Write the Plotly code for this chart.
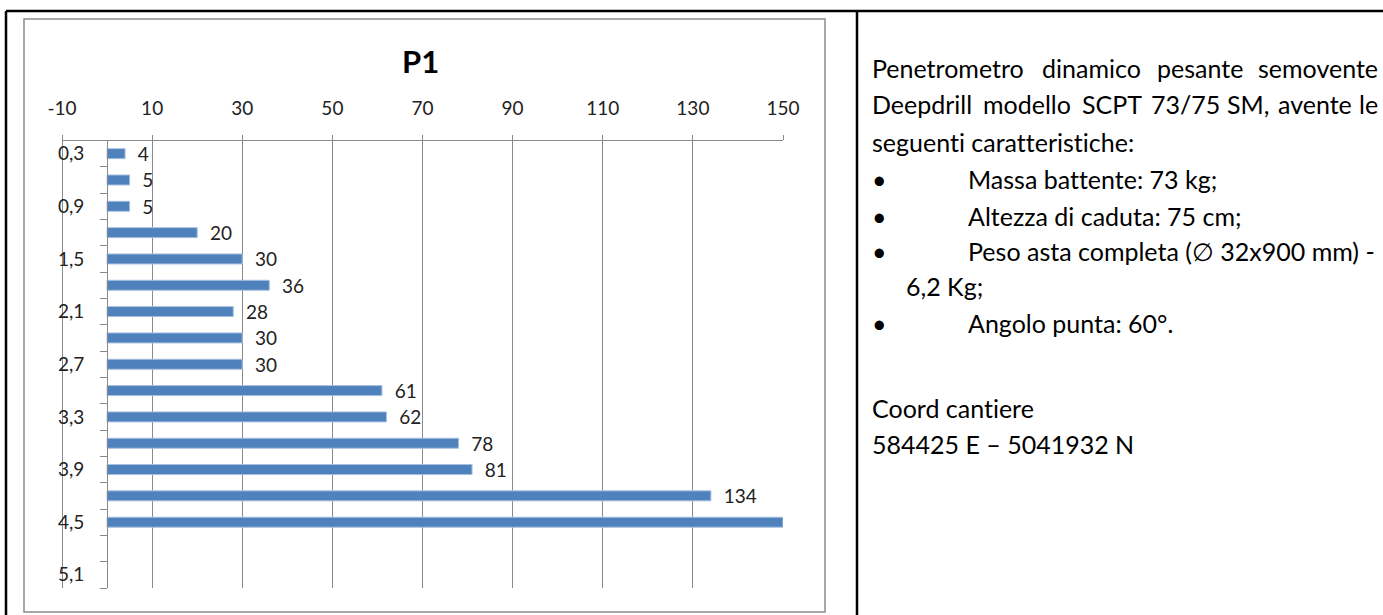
import plotly.graph_objects as go

# Penetrometer test P1: blow counts per 0.3 m depth step
depths = ["0,3", "0,6", "0,9", "1,2", "1,5", "1,8", "2,1", "2,4", "2,7", "3,0",
          "3,3", "3,6", "3,9", "4,2", "4,5", "4,8", "5,1"]
blows = [4, 5, 5, 20, 30, 36, 28, 30, 30, 61, 62, 78, 81, 134, 150]
x_ticks = [-10, 10, 30, 50, 70, 90, 110, 130, 150]

W, H = 1383, 615
FONT = "Lato"
GRID = "#8a8a8a"
BAR = "#4F81BD"
ZWNJ = "\u200c"  # keeps "ti"/"tt" as separate glyphs


def px(x):
    return x / W


def py(y):
    return 1 - y / H


def nolig(s):
    return s.replace("ti", "t" + ZWNJ + "i").replace("tt", "t" + ZWNJ + "t")


x_min, x_max = x_ticks[0], x_ticks[-1]
dom_x = [px(62), px(783)]
dom_y = [py(588), py(140.5)]
# the depth axis sits on x = 0
y_axis_pos = dom_x[0] + (0 - x_min) / (x_max - x_min) * (dom_x[1] - dom_x[0])

idx = list(range(len(depths)))

fig = go.Figure()
fig.add_trace(go.Bar(
    x=blows,
    y=idx[:len(blows)],
    orientation="h",
    width=0.38,
    marker=dict(color=BAR, line=dict(color="#a9c0e0", width=1)),
    text=blows,
    texttemplate="\u00a0\u00a0%{x}",
    textposition="outside",
    constraintext="none",
    cliponaxis=True,
    textfont=dict(family=FONT, size=19, color="#222222"),
    hoverinfo="skip",
))

fig.update_layout(
    width=W, height=H,
    margin=dict(l=0, r=0, t=0, b=0, autoexpand=False),
    paper_bgcolor="white",
    plot_bgcolor="white",
    showlegend=False,
    font=dict(family=FONT, color="#222222"),
    xaxis=dict(
        domain=dom_x,
        side="top",
        automargin=False,
        range=[x_min, x_max],
        tickvals=x_ticks,
        ticktext=[str(v) for v in x_ticks],
        showgrid=True, gridcolor=GRID, gridwidth=1,
        zeroline=False,
        showline=True, linecolor=GRID, linewidth=1,
        ticks="outside", ticklen=5, tickcolor=GRID,
        ticklabelstandoff=12,
        tickfont=dict(family=FONT, size=19, color="#222222"),
        fixedrange=True,
    ),
    yaxis=dict(
        domain=dom_y,
        anchor="free",
        position=y_axis_pos,
        automargin=False,
        range=[len(depths) - 0.5, -0.5],
        tickvals=idx[::2],
        ticktext=depths[::2],
        ticks="",
        ticklabelstandoff=19,
        minor=dict(tickvals=[i - 0.5 for i in range(len(depths) + 1)],
                   ticks="outside", ticklen=7, tickcolor=GRID, showgrid=False),
        showgrid=False, zeroline=False,
        showline=True, linecolor=GRID, linewidth=1,
        tickfont=dict(family=FONT, size=19, color="#222222"),
        fixedrange=True,
    ),
)

shapes = [
    # gridline on the left edge of the value range (not clipped by the plot area)
    dict(type="line", xref="paper", yref="paper",
         x0=dom_x[0] + px(0.5), x1=dom_x[0] + px(0.5), y0=dom_y[0], y1=dom_y[1],
         line=dict(color=GRID, width=1), layer="below"),
    # chart frame
    dict(type="rect", xref="paper", yref="paper",
         x0=px(24), x1=px(825), y0=py(612), y1=py(19),
         line=dict(color="#8c8c8c", width=1.5), fillcolor="rgba(0,0,0,0)"),
    # table borders
    dict(type="line", xref="paper", yref="paper",
         x0=px(6), x1=px(W), y0=py(11), y1=py(11),
         line=dict(color="black", width=2.5)),
    dict(type="line", xref="paper", yref="paper",
         x0=px(6), x1=px(6), y0=py(11), y1=py(H + 2),
         line=dict(color="black", width=2.5)),
    dict(type="line", xref="paper", yref="paper",
         x0=px(857), x1=px(857), y0=py(11), y1=py(H + 2),
         line=dict(color="black", width=2.5)),
]

annotations = [
    dict(text="<b>P1</b>", x=px(420), y=py(61), xref="paper", yref="paper",
         showarrow=False, xanchor="center", yanchor="middle",
         font=dict(family=FONT, size=31, color="black")),
]

TXT = dict(family=FONT, size=25, color="black")


def word(txt, x, y, anchor="left"):
    annotations.append(dict(text=nolig(txt), x=px(x), y=py(y), xref="paper", yref="paper",
                            showarrow=False, xanchor=anchor, yanchor="middle",
                            borderpad=0, font=TXT))


# justified description paragraph
for t, x in [("Penetrometro", 871), ("dinamico", 1041), ("pesante", 1156)]:
    word(t, x, 68)
word("semovente", 1379, 68, "right")
for t, x in [("Deepdrill", 871), ("modello", 982), ("SCPT", 1081), ("73/75", 1150),
             ("SM,", 1226), ("avente", 1277)]:
    word(t, x, 104)
word("le", 1379, 104, "right")
word("seguenti caratteristiche:", 871, 142)

# bulleted list
for t, y in [("Massa battente: 73 kg;", 179), ("Altezza di caduta: 75 cm;", 216),
             ("Peso asta completa (\u2205 32x900 mm) -", 251), ("Angolo punta: 60°.", 323)]:
    word("\u2022", 871, y)
    word(t, 967, y)
word("6,2 Kg;", 905, 286)

word("Coord cantiere", 871, 408)
word("584425 E \u2013 5041932 N", 871, 444)

fig.update_layout(shapes=shapes, annotations=annotations)

fig.write_html("out.html")
